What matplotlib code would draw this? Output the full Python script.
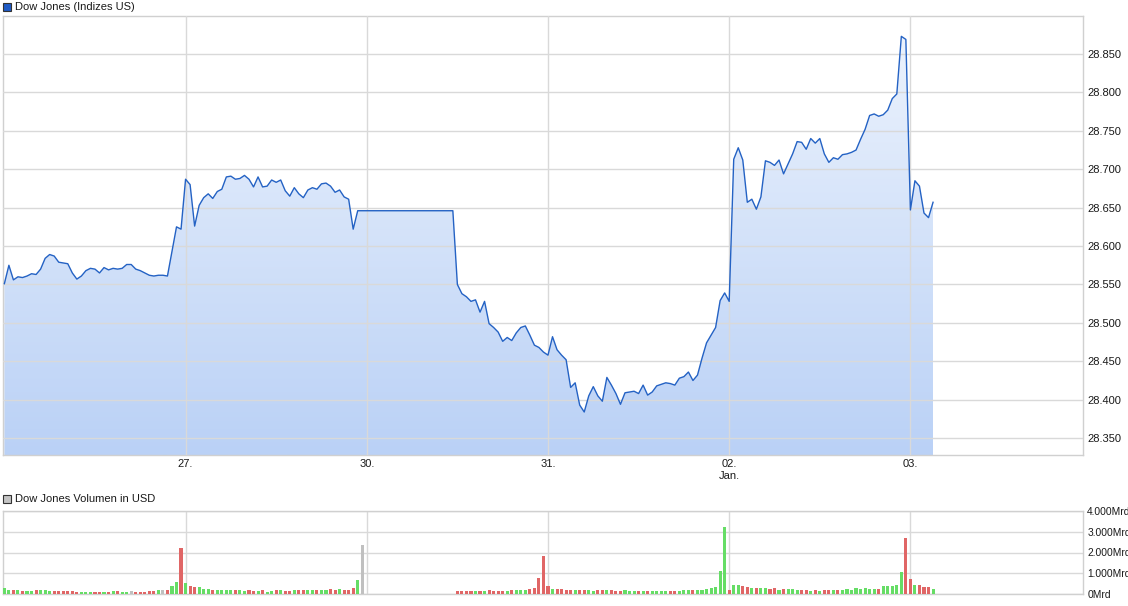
import numpy as np
import matplotlib
matplotlib.use("Agg")
import matplotlib.pyplot as plt
from matplotlib.colors import LinearSegmentedColormap
from matplotlib.patches import Rectangle

plt.rcParams['font.family'] = ['Liberation Sans', 'DejaVu Sans']

# ---------------- data ----------------
title_price = "Dow Jones (Indizes US)"
title_volume = "Dow Jones Volumen in USD"

day26 = [28551, 28575, 28556, 28560, 28559, 28561, 28564, 28563, 28570, 28584,
         28589, 28587, 28579, 28578, 28577, 28565, 28557, 28561, 28568, 28571,
         28570, 28565, 28572, 28569, 28571, 28570, 28571, 28576, 28576, 28570,
         28568, 28565, 28562, 28561, 28562, 28562, 28561, 28593, 28625, 28622]
day27 = [28687, 28680, 28626, 28653, 28663, 28668, 28662, 28671, 28674, 28690,
         28691, 28687, 28688, 28692, 28687, 28677, 28690, 28677, 28678, 28686,
         28683, 28686, 28672, 28665, 28676, 28668, 28663, 28673, 28676, 28674,
         28681, 28682, 28678, 28670, 28673, 28664, 28661, 28622, 28646, 28646]
day30a = [28646, 28646, 28646, 28646, 28646, 28646, 28646, 28646, 28646, 28646,
          28646, 28646, 28646, 28646, 28646, 28646, 28646, 28646, 28646, 28646]
day30b = [28550, 28538, 28534, 28528, 28530, 28514, 28528, 28499, 28494, 28488,
          28476, 28481, 28477, 28487, 28494, 28496, 28484, 28471, 28468, 28462]
day31 = [28458, 28482, 28465, 28458, 28452, 28416, 28422, 28393, 28384, 28405,
         28417, 28405, 28398, 28429, 28419, 28408, 28394, 28409, 28410, 28411,
         28408, 28419, 28406, 28410, 28418, 28420, 28422, 28421, 28419, 28428,
         28430, 28436, 28425, 28432, 28454, 28474, 28484, 28494, 28529, 28539]
day02 = [28528, 28713, 28728, 28712, 28657, 28661, 28648, 28664, 28711, 28709,
         28705, 28712, 28694, 28707, 28720, 28736, 28735, 28726, 28740, 28734,
         28740, 28720, 28709, 28715, 28713, 28719, 28720, 28722, 28725, 28739,
         28752, 28770, 28772, 28769, 28771, 28777, 28792, 28798, 28873, 28869]
day03 = [28647, 28685, 28678, 28643, 28637, 28657]

vol26 = [0.31, 0.21, 0.21, 0.21, 0.16, 0.16, 0.16, 0.21, 0.21, 0.18,
         0.16, 0.16, 0.16, 0.16, 0.16, 0.16, 0.11, 0.11, 0.11, 0.11,
         0.11, 0.11, 0.11, 0.11, 0.15, 0.16, 0.11, 0.11, 0.16, 0.11,
         0.11, 0.11, 0.16, 0.16, 0.21, 0.21, 0.21, 0.37, 0.60, 2.24]
vol27 = [0.55, 0.40, 0.35, 0.35, 0.26, 0.26, 0.21, 0.21, 0.21, 0.18,
         0.21, 0.18, 0.21, 0.16, 0.21, 0.16, 0.16, 0.21, 0.11, 0.16,
         0.18, 0.21, 0.16, 0.16, 0.18, 0.18, 0.18, 0.18, 0.18, 0.18,
         0.18, 0.18, 0.26, 0.21, 0.26, 0.21, 0.21, 0.30, 0.69, 2.37]
vol30a = [np.nan, np.nan, np.nan, np.nan, np.nan, np.nan, np.nan, np.nan, np.nan, np.nan,
          np.nan, np.nan, np.nan, np.nan, np.nan, np.nan, np.nan, np.nan, np.nan, np.nan]
vol30b = [0.16, 0.16, 0.16, 0.16, 0.16, 0.16, 0.16, 0.18, 0.16, 0.16,
          0.16, 0.16, 0.18, 0.21, 0.21, 0.21, 0.26, 0.30, 0.75, 1.85]
vol31 = [0.37, 0.26, 0.26, 0.26, 0.21, 0.21, 0.21, 0.21, 0.21, 0.21,
         0.16, 0.21, 0.21, 0.21, 0.18, 0.16, 0.16, 0.18, 0.16, 0.16,
         0.16, 0.13, 0.16, 0.13, 0.13, 0.13, 0.13, 0.13, 0.16, 0.16,
         0.18, 0.18, 0.21, 0.21, 0.21, 0.26, 0.30, 0.32, 1.13, 3.23]
vol02 = [0.21, 0.45, 0.45, 0.40, 0.35, 0.30, 0.30, 0.30, 0.30, 0.26,
         0.30, 0.21, 0.26, 0.26, 0.26, 0.21, 0.21, 0.21, 0.16, 0.21,
         0.16, 0.21, 0.21, 0.21, 0.21, 0.21, 0.26, 0.21, 0.30, 0.26,
         0.30, 0.26, 0.26, 0.26, 0.37, 0.37, 0.37, 0.42, 1.06, 2.68]
vol03 = [0.71, 0.42, 0.42, 0.32, 0.32, 0.26]

day_ticks = [40, 80, 120, 160, 200]
day_labels = ["27.", "30.", "31.", "02.\nJan.", "03."]
price_ticks = [28350, 28400, 28450, 28500, 28550, 28600, 28650, 28700, 28750, 28800, 28850]
vol_ticks = [0, 1, 2, 3, 4]
vol_labels = ["0Mrd", "1.000Mrd", "2.000Mrd", "3.000Mrd", "4.000Mrd"]

price = np.array(day26 + day27 + day30a + day30b + day31 + day02 + day03, dtype=float)
volume = np.array(vol26 + vol27 + vol30a + vol30b + vol31 + vol02 + vol03, dtype=float)
idx = np.arange(len(price))

# ---------------- figure ----------------
W, H = 1128, 606
fig = plt.figure(figsize=(W / 100, H / 100), dpi=100)

def frac(x0, y0, x1, y1):
    return [x0 / W, 1 - y1 / H, (x1 - x0) / W, (y1 - y0) / H]

grid_c = '#d9d9d9'
spine_c = '#d0d0d0'
text_c = '#1a1a1a'
fs = 8

ax = fig.add_axes(frac(3, 16, 1083, 455))
axv = fig.add_axes(frac(3, 511, 1083, 594))

xlim = (-0.3, 238.1)
ylim = (28328, 28899.5)

# gradient fill below the price line
ax.set_xlim(*xlim)
ax.set_ylim(*ylim)
cmap = LinearSegmentedColormap.from_list('g', ['#bad1f6', '#eef4fd'])
grad = np.linspace(0, 1, 256).reshape(-1, 1)
im = ax.imshow(grad, cmap=cmap, aspect='auto', origin='lower',
               extent=[idx[0], idx[-1], ylim[0], ylim[1]], zorder=1)
poly = ax.fill_between(idx, price, ylim[0], color='none', lw=0)
path = poly.get_paths()[0]
im.set_clip_path(path, transform=ax.transData)
ax.plot(idx, price, color='#2462c4', lw=1.0, zorder=3)

ax.set_xlim(*xlim)
ax.set_ylim(*ylim)
ax.set_yticks(price_ticks)
ax.set_yticklabels([f"{v:,.0f}".replace(',', '.') for v in price_ticks])
ax.yaxis.tick_right()
ax.set_xticks(day_ticks)
ax.set_xticklabels(day_labels)
ax.grid(True, color=grid_c, lw=1, zorder=2)
ax.set_axisbelow(False)
for gl in ax.get_xgridlines() + ax.get_ygridlines():
    gl.set_zorder(2)
ax.tick_params(axis='both', length=0, labelsize=fs, colors=text_c)
ax.tick_params(axis='y', pad=3)
ax.tick_params(axis='x', pad=3)
for s in ax.spines.values():
    s.set_color(spine_c)
    s.set_linewidth(1)

# volume
colors = []
for i in range(len(price)):
    if i == 0:
        colors.append('#66dd66')
    else:
        d = price[i] - price[i - 1]
        colors.append('#66dd66' if d > 0 else ('#e06666' if d < 0 else '#c0c0c0'))
axv.bar(idx, volume, width=0.68, color=colors, zorder=3, lw=0)
axv.set_xlim(*xlim)
axv.set_ylim(0, 4)
axv.set_yticks(vol_ticks)
axv.set_yticklabels(vol_labels)
axv.yaxis.tick_right()
axv.set_xticks(day_ticks)
axv.set_xticklabels([])
axv.grid(True, color=grid_c, lw=1, zorder=1)
axv.tick_params(axis='x', length=0)
axv.tick_params(axis='y', length=0, labelsize=7.4, colors=text_c, pad=3)
for s in axv.spines.values():
    s.set_color(spine_c)
    s.set_linewidth(1)

# legend-like titles
fig.patches.append(Rectangle((3 / W, 1 - 11 / H), 8 / W, 8 / H, transform=fig.transFigure,
                             facecolor='#1f5bc6', edgecolor='#333333', lw=0.8))
fig.text(15 / W, 1 - 6.5 / H, title_price, fontsize=fs, color=text_c, va='center', ha='left')
fig.patches.append(Rectangle((3 / W, 1 - 503 / H), 8 / W, 8 / H, transform=fig.transFigure,
                             facecolor='#c4c4c4', edgecolor='#333333', lw=0.8))
fig.text(15 / W, 1 - 498.5 / H, title_volume, fontsize=fs, color=text_c, va='center', ha='left')

fig.savefig('out.png', dpi=100)
